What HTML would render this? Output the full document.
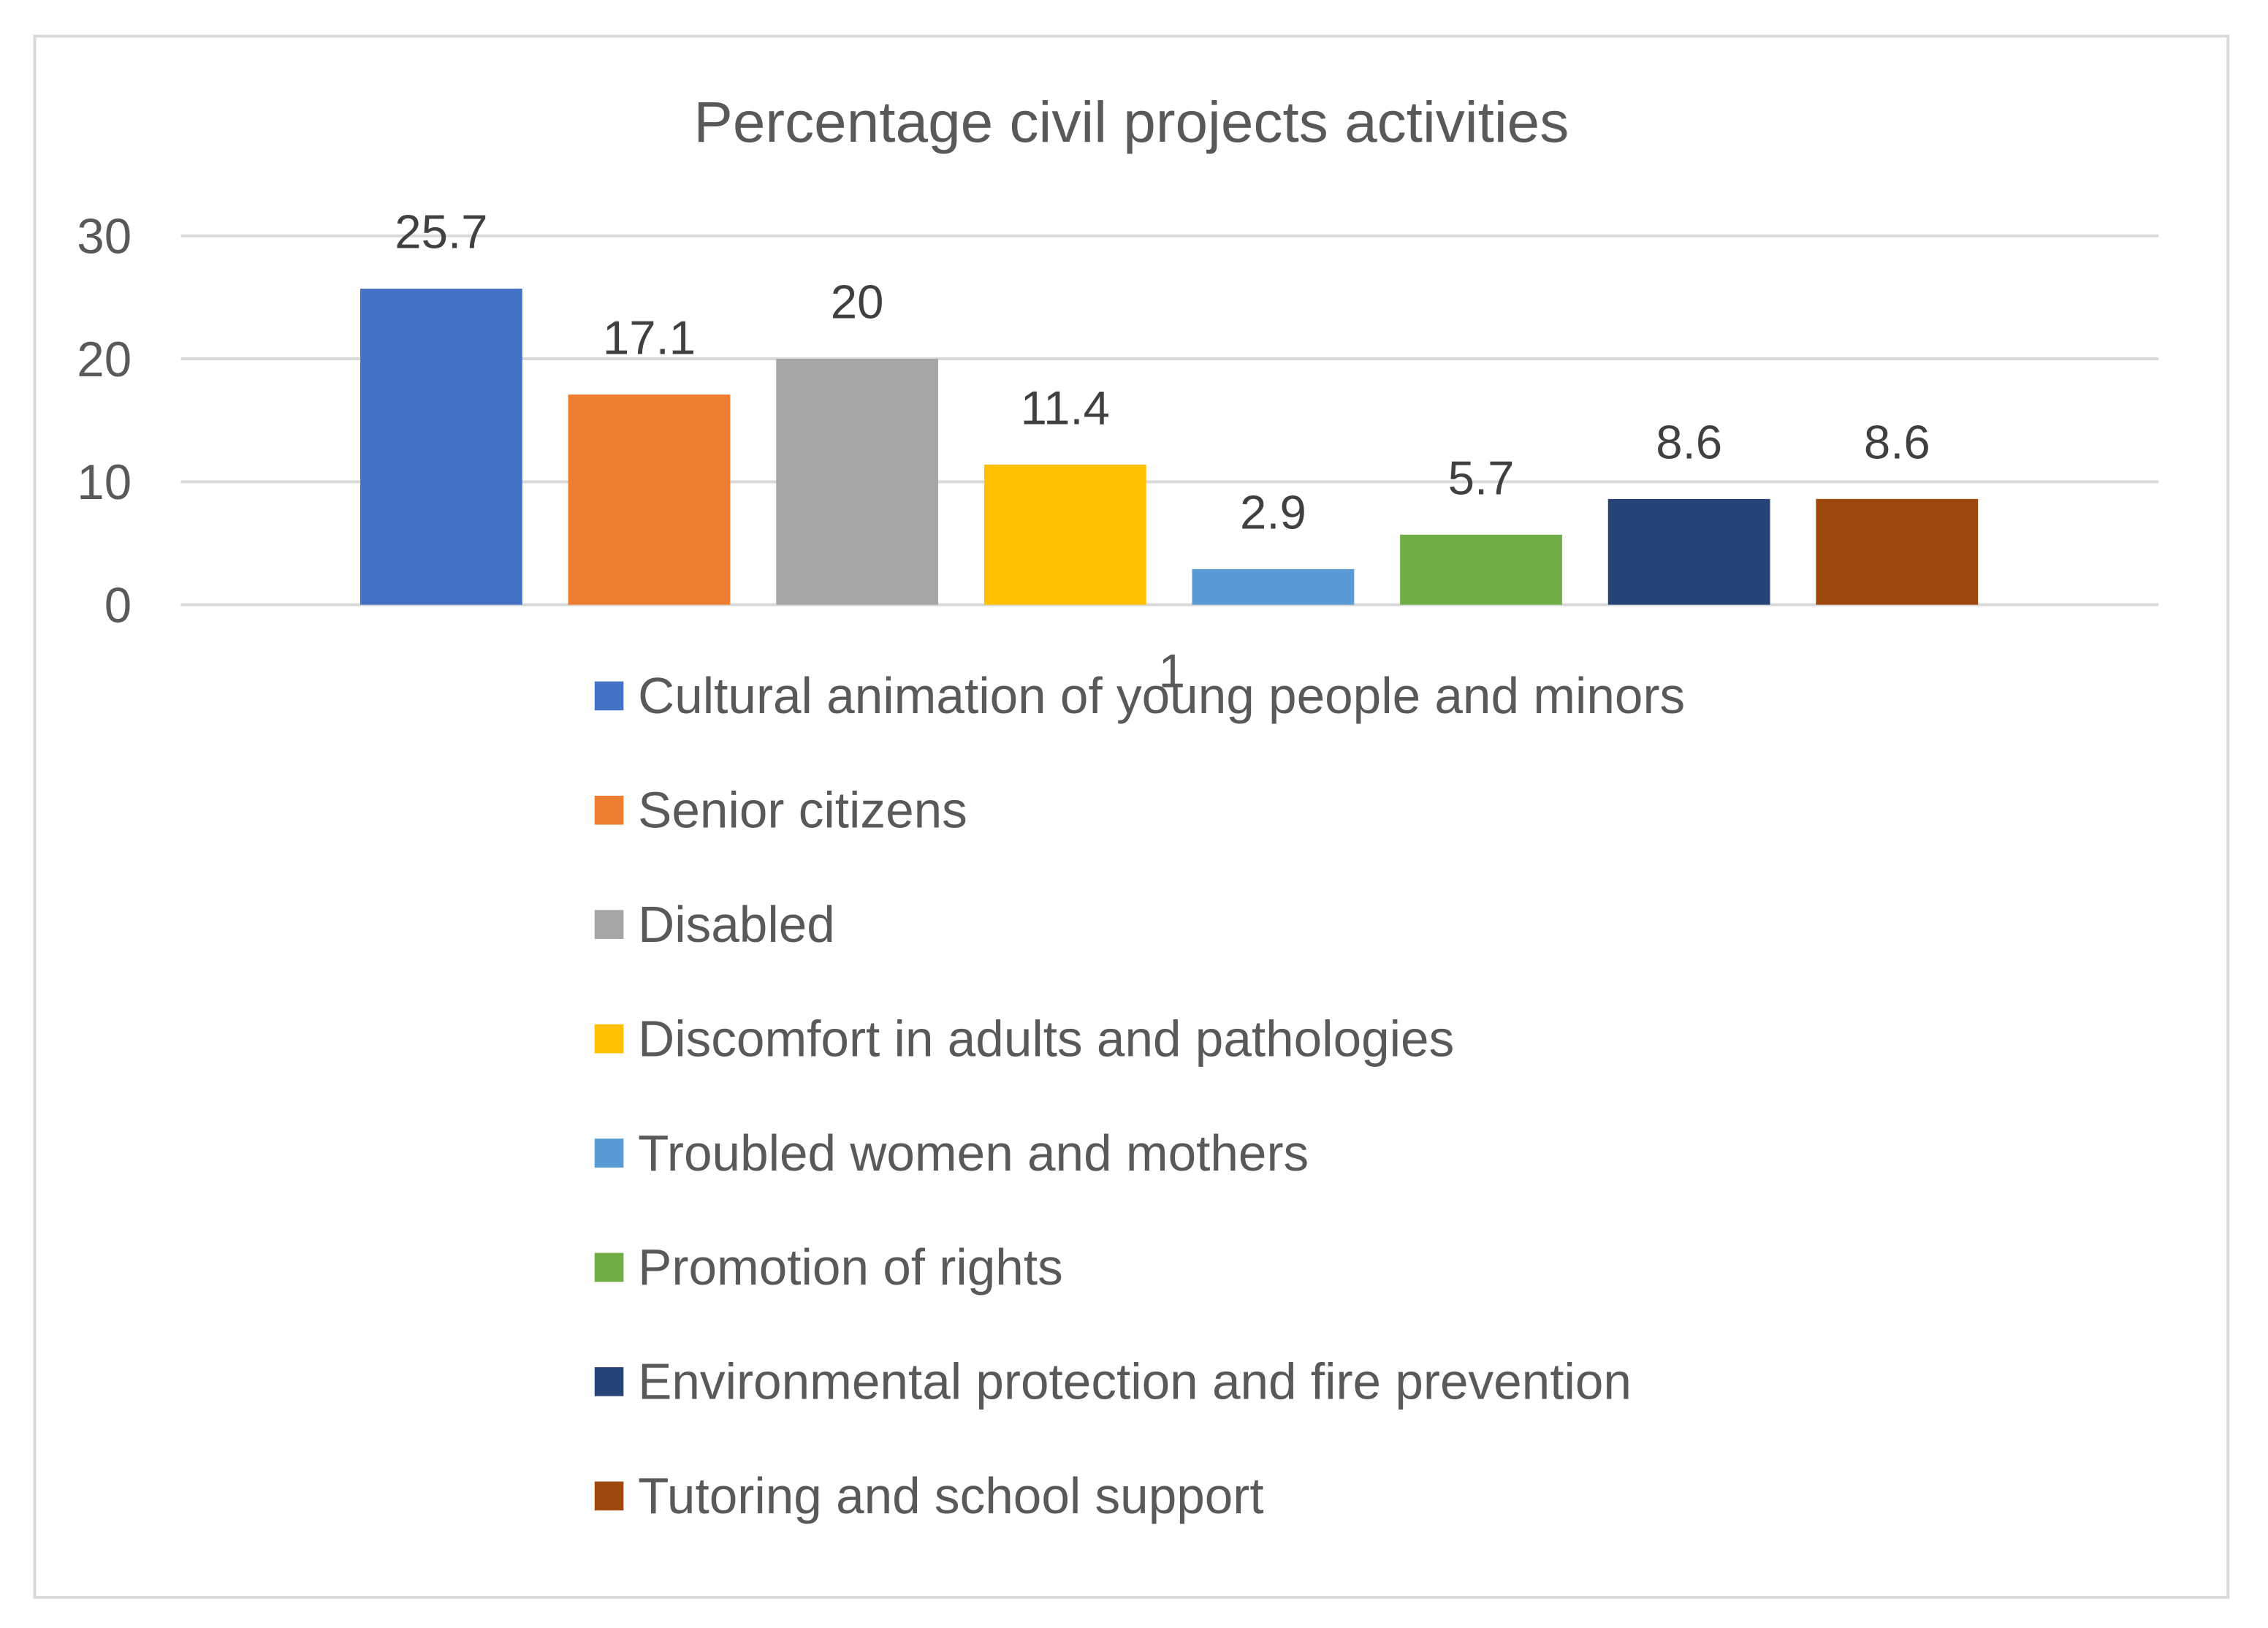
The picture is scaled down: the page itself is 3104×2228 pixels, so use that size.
<!DOCTYPE html>
<html><head><meta charset="utf-8"><style>
html,body{margin:0;padding:0;background:#fff;}
svg{display:block;font-family:"Liberation Sans",sans-serif;}
</style></head><body>
<svg id="chart" width="3104" height="2228" viewBox="0 0 3104 2228">
<g transform="scale(0.99)">
<rect x="48" y="50" width="3032" height="2158" fill="#fff" stroke="#d9d9d9" stroke-width="4"/>
<text x="1564" y="196" text-anchor="middle" font-size="80" fill="#595959" textLength="1210" lengthAdjust="spacingAndGlyphs">Percentage civil projects activities</text>
<g id="grid"></g><g id="bars"></g><g id="legend"></g>
<text x="1620" y="950" text-anchor="middle" font-size="66" fill="#595959">1</text>
</g>
</svg>
<script>
const categories = ["Cultural animation of young people and minors","Senior citizens","Disabled","Discomfort in adults and pathologies","Troubled women and mothers","Promotion of rights","Environmental protection and fire prevention","Tutoring and school support"];
const values = [25.7, 17.1, 20, 11.4, 2.9, 5.7, 8.6, 8.6];
const labels = ["25.7","17.1","20","11.4","2.9","5.7","8.6","8.6"];
const colors = ["#4472C4","#ED7D31","#A5A5A5","#FFC000","#5B9BD5","#70AD47","#264478","#9E480E"];
const yTicks = [0, 10, 20, 30];

const NS = "http://www.w3.org/2000/svg";
const y0 = 836, pxPerUnit = 17;
const y = v => y0 - v * pxPerUnit;
const barX = i => 498 + i * 287.5;
const barW = 224;
function mk(tag, attrs, parent){const e=document.createElementNS(NS,tag);for(const k in attrs)e.setAttribute(k,attrs[k]);parent.appendChild(e);return e;}

const grid = document.getElementById("grid");
yTicks.forEach(t=>{
  const l = mk("line",{x1:250,x2:2984,y1:y(t),y2:y(t),stroke:"#d9d9d9","stroke-width":4},grid);
  
  
  const tx = mk("text",{x:182,y:y(t)+24,"text-anchor":"end","font-size":68,fill:"#595959"},grid);
  tx.textContent = t;
  
  
});

const bars = document.getElementById("bars");
values.forEach((v,i)=>{
  const r = mk("rect",{x:barX(i),y:y(v),width:barW,height:y0-y(v),fill:colors[i]},bars);
  
  
  const t = mk("text",{x:barX(i)+barW/2,y:y(v)-56,"text-anchor":"middle","font-size":66,fill:"#404040"},bars);
  t.textContent = labels[i];
  
  
});

const legend = document.getElementById("legend");
categories.forEach((c,i)=>{
  const cy = 962 + i*158;
  const s = mk("rect",{x:822,y:cy-20,width:40,height:40,fill:colors[i]},legend);
  
  
  const t = mk("text",{x:882,y:cy+24,"font-size":70,fill:"#595959"},legend);
  t.textContent = c;
  
  
});
</script>
</body></html>
